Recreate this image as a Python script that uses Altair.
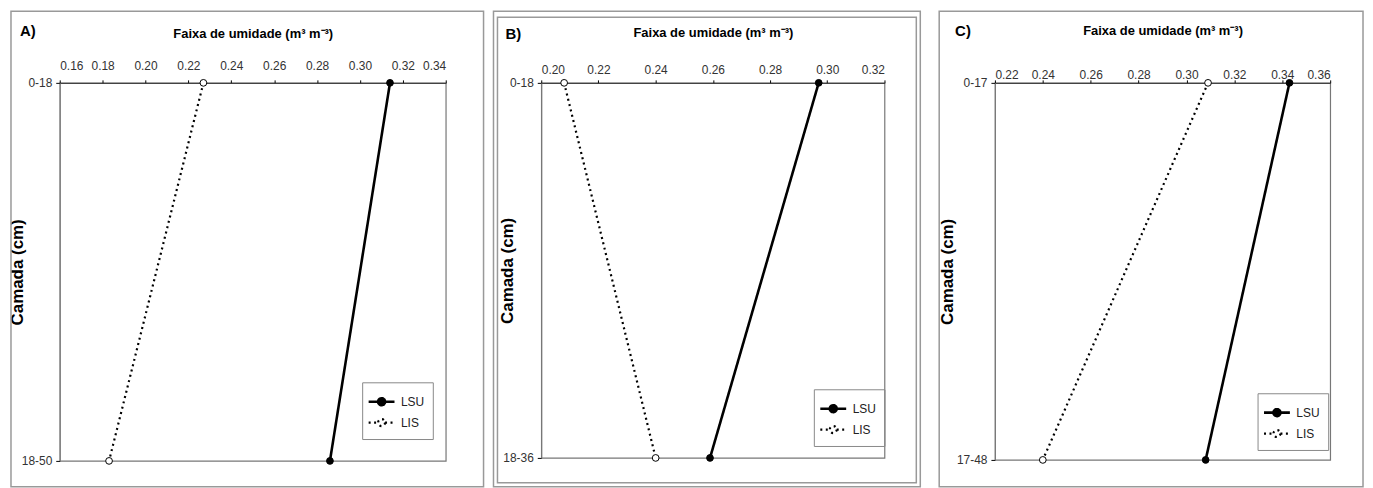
import altair as alt
import pandas as pd

SERIES = ["LSU", "LIS"]

A_LAYERS = ["0-18", "18-50"]
A_LSU = [0.314, 0.286]
A_LIS = [0.227, 0.183]
A_TICKS = [0.16, 0.18, 0.20, 0.22, 0.24, 0.26, 0.28, 0.30, 0.32, 0.34]

B_LAYERS = ["0-18", "18-36"]
B_LSU = [0.297, 0.259]
B_LIS = [0.208, 0.240]
B_TICKS = [0.20, 0.22, 0.24, 0.26, 0.28, 0.30, 0.32]

C_LAYERS = ["0-17", "17-48"]
C_LSU = [0.343, 0.308]
C_LIS = [0.309, 0.240]
C_TICKS = [0.22, 0.24, 0.26, 0.28, 0.30, 0.32, 0.34, 0.36]

X_TITLE = "Faixa de umidade (m³ m⁻³)"
Y_TITLE = "Camada (cm)"

NARROW = "Liberation Sans Narrow, Arial Narrow, Liberation Sans, sans-serif"
SANS = "Liberation Sans, Arial, sans-serif"
SYMBOL = "M-1.3,0L-0.35,0M0.35,0L1.3,0M0.35,0A0.35,0.35,0,1,1,-0.35,0A0.35,0.35,0,1,1,0.35,0Z"


def make_panel(letter, layers, lsu, lis, ticks, width, height, cfg):
    rows = []
    for s, vals in zip(SERIES, [lsu, lis]):
        for i, (lay, v) in enumerate(zip(layers, vals)):
            rows.append({"serie": s, "camada": lay, "valor": v, "ordem": i})
    df = pd.DataFrame(rows)
    one = pd.DataFrame({"k": [0]})

    legend = alt.Legend(
        title=None, orient="none", legendX=cfg["lx"], legendY=cfg["ly"],
        symbolType=SYMBOL, symbolSize=400, strokeColor="#888", padding=8,
        labelFont=NARROW, labelFontSize=12, labelColor="#222", labelOffset=8,
        rowPadding=0, symbolStrokeColor="black",
    )
    x = alt.X(
        "valor:Q",
        scale=alt.Scale(domain=[ticks[0], ticks[-1]], nice=False, zero=False),
        axis=alt.Axis(
            orient="top", values=ticks, format=".2f", title=X_TITLE,
            titleY=cfg["ty"], titleBaseline="middle", labelPadding=cfg["lp"],
            titleFont=NARROW, titleFontSize=13, titleFontWeight="bold",
        ),
    )
    y = alt.Y(
        "camada:N", sort=layers,
        scale=alt.Scale(type="point", padding=0),
        axis=alt.Axis(
            title=Y_TITLE, titleX=cfg["tx"], titleBaseline="middle",
            titleFont=SANS, titleFontSize=17, titleFontWeight="bold",
            tickSize=4, labelPadding=4, domainColor="#777",
        ),
    )

    frames = []
    for (x0, x1, y0, y1) in cfg["frames"]:
        frames.append(
            alt.Chart(one).mark_rect(fill="white", fillOpacity=0, stroke="#999", strokeWidth=1.5).encode(
                x=alt.value(x0), x2=alt.value(width + x1), y=alt.value(y0), y2=alt.value(height + y1)
            )
        )

    label = alt.Chart(one).mark_text(
        text=letter, align="left", baseline="middle", font=SANS, fontWeight="bold", fontSize=15, color="black"
    ).encode(x=alt.value(cfg["lt"][0]), y=alt.value(cfg["lt"][1]))

    base = alt.Chart(df)
    line = base.mark_line(color="black").encode(
        x=x, y=y, order=alt.Order("ordem:Q"),
        strokeDash=alt.StrokeDash("serie:N", scale=alt.Scale(domain=SERIES, range=[[1, 0], [2, 3.5]]), legend=legend),
        strokeWidth=alt.StrokeWidth("serie:N", scale=alt.Scale(domain=SERIES, range=[2.6, 2.2]), legend=legend),
    )
    pts = base.mark_point(filled=True, size=46, stroke="black", strokeWidth=1, opacity=1).encode(
        x=x, y=y,
        fill=alt.Fill("serie:N", scale=alt.Scale(domain=SERIES, range=["black", "white"]), legend=legend),
    )
    return alt.layer(*frames, label, line, pts).properties(width=width, height=height)


pa = make_panel("A)", A_LAYERS, A_LSU, A_LIS, A_TICKS, 388, 380, {
    "lx": 304, "ly": 301, "ty": -50, "lp": 7, "tx": -42,
    "frames": [(-49, 38, -72, 26)], "lt": (-40, -52),
})
pb = make_panel("B)", B_LAYERS, B_LSU, B_LIS, B_TICKS, 345, 377, {
    "lx": 274, "ly": 308, "ty": -51, "lp": 3, "tx": -34,
    "frames": [(-48, 36, -72, 29), (-44, 32, -66, 25)], "lt": (-36, -49),
})
pc = make_panel("C)", C_LAYERS, C_LSU, C_LIS, C_TICKS, 337, 379, {
    "lx": 264, "ly": 312, "ty": -53, "lp": -2, "tx": -48,
    "frames": [(-56, 33, -72, 27)], "lt": (-40, -52),
})


def spacer(w):
    return alt.Chart(pd.DataFrame({"k": [0]})).mark_text(text="").properties(
        width=w, height=380, view=alt.ViewBackground(stroke="transparent")
    )


chart = alt.hconcat(pa, spacer(96), pb, spacer(111), pc, spacing=0, bounds="flush").resolve_scale(
    fill="independent", strokeDash="independent", strokeWidth="independent"
).resolve_legend(
    fill="independent", strokeDash="independent", strokeWidth="independent"
).properties(
    padding={"left": 0, "top": 0, "right": 0, "bottom": 0}
).configure_view(
    stroke="#777", strokeWidth=1.2
).configure_axis(
    labelFont=NARROW, labelFontSize=12, labelColor="#333", tickColor="black",
    domainColor="#333", tickSize=3, grid=False, titleColor="black",
)

chart.save("out.html", embed_options={"renderer": "svg", "actions": False})
